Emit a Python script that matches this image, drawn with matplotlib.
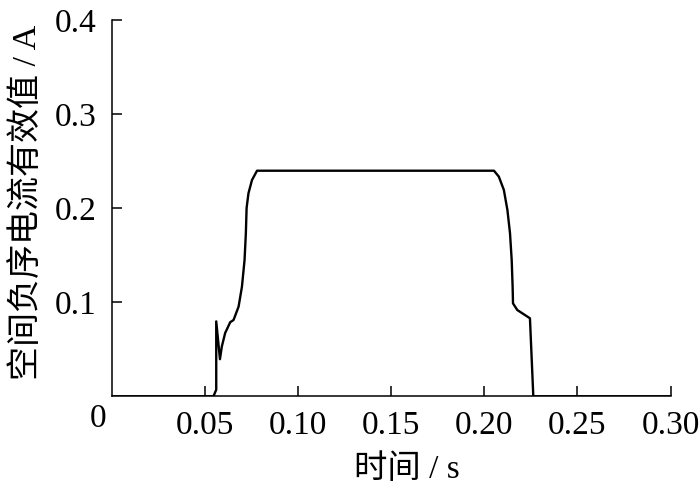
import matplotlib
matplotlib.use("Agg")
import matplotlib.pyplot as plt

plt.rcParams['font.family'] = ['Liberation Serif', 'Noto Sans CJK SC', 'DejaVu Sans']

# 时间 (s) / 空间负序电流有效值 (A)
t = [0.0, 0.0546, 0.0561, 0.0561, 0.0581, 0.0591, 0.0609, 0.0636, 0.0654,
     0.0681, 0.0699, 0.0713, 0.0720, 0.0724, 0.0734, 0.0753, 0.0780,
     0.2052, 0.2078, 0.2105, 0.2124, 0.2138, 0.2147, 0.2152, 0.2154,
     0.2177, 0.2245, 0.2263, 0.30]
i_neg = [0.0, 0.0, 0.007, 0.0797, 0.0395, 0.0529, 0.0674, 0.0788, 0.0812,
         0.0954, 0.1166, 0.1450, 0.1733, 0.2003, 0.2160, 0.2301, 0.2400,
         0.2400, 0.2337, 0.2195, 0.1982, 0.1734, 0.1450, 0.1166, 0.0989,
         0.0918, 0.0830, 0.0, 0.0]

xticks = [0.05, 0.10, 0.15, 0.20, 0.25, 0.30]
xtick_labels = ['0.05', '0.10', '0.15', '0.20', '0.25', '0.30']
yticks = [0.1, 0.2, 0.3, 0.4]
ytick_labels = ['0.1', '0.2', '0.3', '0.4']

fig = plt.figure(figsize=(7, 4.92), dpi=100)
ax = fig.add_axes([0.1596, 0.1945, 0.7984, 0.7642])

ax.plot(t, i_neg, color='black', lw=1.7, solid_joinstyle='round')

ax.set_xlim(0, 0.30)
ax.set_ylim(0, 0.4)
ax.set_xticks(xticks)
ax.set_xticklabels(xtick_labels)
ax.set_yticks(yticks)
ax.set_yticklabels(ytick_labels)

for s in ['top', 'right']:
    ax.spines[s].set_visible(False)
for s in ['left', 'bottom']:
    ax.spines[s].set_linewidth(1.1)

ax.tick_params(direction='in', length=7, width=1.1, labelsize=24)
ax.tick_params(axis='x', pad=10)
ax.tick_params(axis='y', pad=11)

ax.text(-0.025, -0.02, '0', transform=ax.transAxes, fontsize=24,
        ha='center', va='top')

ax.set_xlabel('时间 / s', fontsize=24, va='center', ha='center')
ax.set_ylabel('空间负序电流有效值 / A', fontsize=24.5, va='center', ha='center')
ax.xaxis.set_label_coords(0.528, -0.196)
ax.yaxis.set_label_coords(-0.15, 0.517)

fig.savefig('out.png', dpi=100)
